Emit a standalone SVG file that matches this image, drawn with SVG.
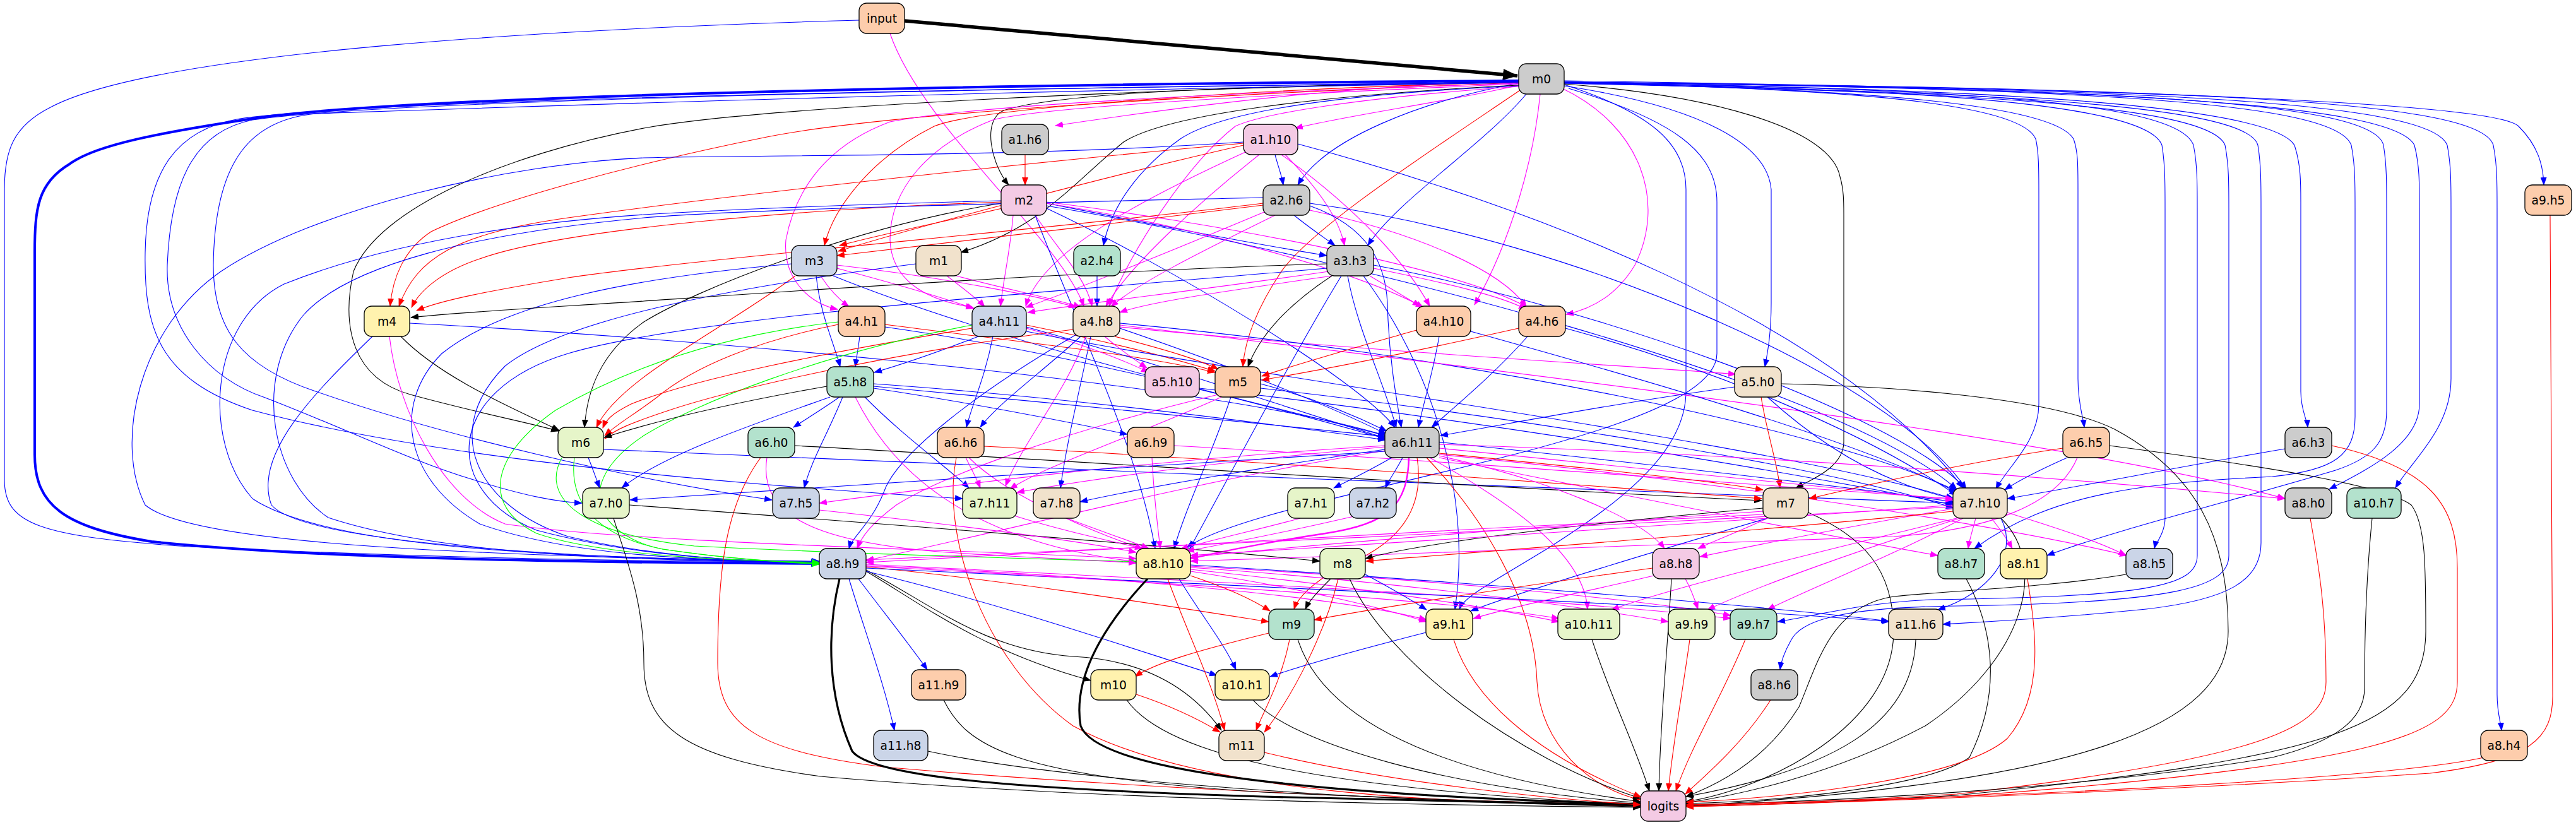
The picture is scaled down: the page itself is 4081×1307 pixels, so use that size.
<svg xmlns="http://www.w3.org/2000/svg" width="4081" height="1307" viewBox="0 0 4081 1307">
<defs>
<marker id="mb" viewBox="0 0 13 10" markerWidth="13" markerHeight="10" refX="12" refY="5" orient="auto" markerUnits="userSpaceOnUse"><path d="M0,0L13,5L0,10z" fill="#00f"/></marker>
<marker id="mr" viewBox="0 0 13 10" markerWidth="13" markerHeight="10" refX="12" refY="5" orient="auto" markerUnits="userSpaceOnUse"><path d="M0,0L13,5L0,10z" fill="#f00"/></marker>
<marker id="mm" viewBox="0 0 13 10" markerWidth="13" markerHeight="10" refX="12" refY="5" orient="auto" markerUnits="userSpaceOnUse"><path d="M0,0L13,5L0,10z" fill="#f0f"/></marker>
<marker id="mk" viewBox="0 0 13 10" markerWidth="13" markerHeight="10" refX="12" refY="5" orient="auto" markerUnits="userSpaceOnUse"><path d="M0,0L13,5L0,10z" fill="#000"/></marker>
<marker id="mg" viewBox="0 0 13 10" markerWidth="13" markerHeight="10" refX="12" refY="5" orient="auto" markerUnits="userSpaceOnUse"><path d="M0,0L13,5L0,10z" fill="#0f0"/></marker>
<marker id="mkb" viewBox="0 0 24 18" markerWidth="24" markerHeight="18" refX="23" refY="9" orient="auto" markerUnits="userSpaceOnUse"><path d="M0,0L24,9L0,18z" fill="#000"/></marker>
</defs>
<style>
.e path{fill:none;stroke-width:1.1}
.e .b{stroke:#00f;marker-end:url(#mb)}
.e .r{stroke:#f00;marker-end:url(#mr)}
.e .m{stroke:#f0f;marker-end:url(#mm)}
.e .k{stroke:#000;marker-end:url(#mk)}
.e .g{stroke:#0f0;marker-end:url(#mg)}
.e .w2{stroke-width:2.4}
.e .w3{stroke-width:3.2}
.e .w4{stroke-width:4}
.e .w5{stroke-width:5.5;marker-end:url(#mkb)}
.n rect{stroke:#000;stroke-width:1.3;rx:12;ry:12}
.n text{font-family:"DejaVu Sans","Liberation Sans",sans-serif;font-size:18.67px;text-anchor:middle;fill:#000}
.o{fill:#fdcdac}.gy{fill:#cccccc}.pk{fill:#f4cae4}.bl{fill:#cbd5e8}.bg{fill:#f1e2cc}.gr{fill:#b3e2cd}.yl{fill:#fff2ae}.lm{fill:#e6f5c9}
</style>
<rect width="4081" height="1307" fill="#fff"/>
<g id="edges" class="e">
<path class="k w5" d="M1433,33 L2404,120"/>
<path class="b" d="M1361,32 C900,45 250,80 80,170 C20,200 7,240 7,300 L7,760 C7,830 60,850 300,866 C700,885 1050,890 1298,890"/>
<path class="m" d="M1410,53 C1460,200 1680,380 1717,485"/>
<path class="m" d="M2406,128 C2200,135 2000,150 1672,199"/>
<path class="m" d="M2406,135 C2300,160 2150,180 2052,203"/>
<path class="k" d="M2406,129 C2100,135 1700,140 1590,175 C1555,190 1570,260 1598,293"/>
<path class="b" d="M2406,132 C2250,160 2100,220 2056,293"/>
<path class="b" d="M2478,128 C3300,140 3950,160 3990,200 C4020,230 4029,260 4030,293"/>
<path class="r" d="M2406,130 C2000,140 1550,170 1480,200 C1380,250 1320,330 1306,389"/>
<path class="k" d="M2406,135 C2100,150 1850,180 1780,225 C1700,290 1650,360 1522,400"/>
<path class="b" d="M2406,136 C2100,150 1930,180 1870,220 C1800,270 1760,330 1748,389"/>
<path class="b" d="M2418,149 C2350,230 2210,320 2167,389"/>
<path class="r" d="M2406,131 C1900,150 1400,180 1215,217 C1000,260 780,320 683,367 C640,395 622,440 618,485"/>
<path class="m" d="M2406,132 C2000,145 1550,165 1410,193 C1310,230 1260,300 1245,380 C1240,440 1280,480 1327,490"/>
<path class="m" d="M2406,133 C2000,150 1650,170 1573,190 C1470,230 1410,300 1410,380 C1412,440 1460,475 1542,487"/>
<path class="m" d="M2406,137 C2150,155 2000,180 1957,200 C1880,260 1790,400 1757,485"/>
<path class="m" d="M2440,149 C2430,250 2395,380 2336,483"/>
<path class="m" d="M2475,140 C2600,200 2640,320 2590,420 C2560,470 2520,490 2481,498"/>
<path class="r" d="M2408,143 C2250,250 2080,360 2030,430 C1990,490 1972,540 1969,581"/>
<path class="b" d="M2478,136 C2700,170 2800,230 2806,300 L2806,480 C2806,530 2800,560 2796,581"/>
<path class="k" d="M2406,129 C1800,140 1200,170 1020,203 C800,245 600,330 560,430 C540,520 560,600 650,625 C760,655 840,670 885,683"/>
<path class="b" d="M2478,131 C2900,140 3250,160 3285,220 C3292,240 3292,260 3292,300 L3292,600 C3292,640 3300,660 3302,677"/>
<path class="b" d="M2478,131 C3200,140 3600,170 3635,230 C3645,260 3645,290 3645,320 L3645,620 C3645,650 3655,665 3656,677"/>
<path class="b" d="M2478,131 C2900,140 3200,160 3225,220 C3230,240 3230,270 3230,310 L3230,640 C3230,700 3180,740 3162,775"/>
<path class="b" d="M2478,130 C3300,140 3790,160 3825,230 C3833,260 3833,290 3833,330 L3833,640 C3833,700 3760,740 3690,775"/>
<path class="b" d="M2478,130 C3400,140 3850,160 3877,230 C3883,260 3883,290 3883,330 L3883,600 C3883,680 3820,730 3795,773"/>
<path class="b" d="M2478,131 C3000,140 3400,160 3425,230 C3430,260 3430,290 3430,330 L3430,820 C3430,845 3415,860 3413,869"/>
<path class="b" d="M2478,131 C3100,140 3450,160 3475,230 C3481,260 3481,290 3481,330 L3481,880 C3481,930 3400,945 3060,950 C2950,955 2880,975 2816,985"/>
<path class="b" d="M2478,132 C3100,145 3500,165 3525,230 C3531,260 3531,290 3531,330 L3531,880 C3531,930 3450,955 3100,960 C2930,962 2860,980 2840,1010 C2828,1030 2822,1045 2820,1061"/>
<path class="b" d="M2478,132 C3150,145 3560,165 3577,230 C3582,260 3582,290 3582,330 L3582,860 C3582,920 3530,950 3400,965 C3250,980 3150,985 3078,989"/>
<path class="b" d="M2478,130 C3300,140 3700,160 3725,230 C3731,260 3731,290 3731,330 L3731,660 C3731,720 3700,745 3600,755 C3400,765 3250,780 3128,869"/>
<path class="b" d="M2478,130 C3350,140 3760,160 3776,230 C3781,260 3781,290 3781,330 L3781,650 C3781,700 3760,725 3700,745 C3550,790 3350,840 3243,880"/>
<path class="b" d="M2478,130 C3500,140 3930,160 3950,230 C3956,260 3956,290 3956,330 L3956,1100 C3956,1130 3962,1145 3963,1157"/>
<path class="k" d="M2478,133 C2700,150 2900,200 2915,280 C2921,300 2921,320 2921,340 L2921,700 C2921,740 2870,760 2845,773"/>
<path class="b" d="M2478,134 C2620,180 2671,230 2671,300 L2671,620 C2671,720 2560,800 2450,870 C2360,925 2320,945 2312,965"/>
<path class="b" d="M2485,140 C2650,190 2720,240 2720,320 L2720,560 C2720,700 2000,780 1880,868"/>
<path class="b w4" d="M2406,128 C1600,133 700,150 420,185 C250,210 150,230 110,260 C60,290 55,330 55,400 L55,720 C55,800 100,835 240,858 C500,885 900,891 1297,893"/>
<path class="b" d="M2406,130 C1500,140 600,160 400,190 C300,210 270,300 265,420 C262,520 330,600 420,630 C550,680 650,730 750,760 C830,785 880,795 922,797"/>
<path class="b" d="M2406,131 C1500,145 800,170 500,180 C400,190 340,250 338,420 C338,520 380,580 500,620 C700,690 1000,760 1223,792"/>
<path class="b" d="M2406,131 C1500,140 600,158 380,188 C280,205 232,270 230,400 C228,520 250,600 400,650 C700,730 1200,770 1525,790"/>
<path class="r" d="M1624,245 L1624,293"/>
<path class="b" d="M2020,245 C2025,265 2030,275 2033,293"/>
<path class="r" d="M1970,230 C1750,280 1450,360 1328,398"/>
<path class="r" d="M1970,227 C1600,260 1150,310 900,345 C720,370 660,410 632,485"/>
<path class="m" d="M2036,245 C2080,290 2120,340 2130,389"/>
<path class="m" d="M1975,240 C1800,320 1650,400 1625,485"/>
<path class="m" d="M1995,245 C1900,320 1790,420 1752,485"/>
<path class="m" d="M2030,245 C2150,330 2230,420 2265,485"/>
<path class="b" d="M2056,228 C2400,320 2900,500 3110,773"/>
<path class="b" d="M1970,225 C1600,250 1200,245 1020,250 C800,260 500,330 350,430 C220,520 180,700 230,800 C300,860 700,880 1297,890"/>
<path class="r" d="M1588,330 C1500,350 1400,370 1330,389"/>
<path class="r" d="M1586,320 C1300,330 900,360 760,410 C700,430 665,460 652,487"/>
<path class="k" d="M1586,322 C1350,360 1100,460 1020,510 C950,560 930,620 926,677"/>
<path class="b" d="M1658,322 C1800,350 1950,380 2102,405"/>
<path class="m" d="M1605,341 C1600,400 1590,440 1585,485"/>
<path class="m" d="M1640,341 C1680,400 1720,440 1730,485"/>
<path class="m" d="M1658,320 C1900,350 2300,420 2420,487"/>
<path class="m" d="M1658,322 C1900,360 2150,430 2255,487"/>
<path class="b" d="M1586,318 C1300,325 1100,335 1020,340 C800,355 600,390 450,450 C330,510 320,700 400,790 C520,870 900,885 1298,889"/>
<path class="b" d="M1658,326 C2100,400 2900,600 3100,775"/>
<path class="b" d="M1658,330 C1850,420 2150,600 2210,677"/>
<path class="b" d="M1640,341 C1700,500 1800,700 1830,869"/>
<path class="b" d="M2050,341 C2080,365 2100,378 2115,389"/>
<path class="r" d="M2001,325 C1800,350 1500,385 1326,405"/>
<path class="r" d="M2001,322 C1700,360 1100,410 900,440 C780,460 700,475 660,492"/>
<path class="m" d="M2005,335 C1850,400 1700,460 1625,487"/>
<path class="m" d="M2020,341 C1900,400 1800,450 1760,486"/>
<path class="m" d="M2075,333 C2250,370 2380,430 2418,486"/>
<path class="b" d="M2075,326 C2170,360 2195,420 2198,480 C2200,560 2210,620 2220,677"/>
<path class="b" d="M2075,322 C2500,380 3000,600 3115,775"/>
<path class="b" d="M2001,313 C1700,320 1200,330 1020,345 C750,370 550,420 480,500 C400,600 430,760 520,820 C700,880 1000,888 1298,891"/>
<path class="m" d="M1300,437 C1315,460 1330,475 1345,486"/>
<path class="m" d="M1326,425 C1420,450 1490,470 1543,489"/>
<path class="m" d="M1326,420 C1500,440 1650,470 1705,487"/>
<path class="b" d="M1293,437 C1300,500 1320,540 1331,581"/>
<path class="r" d="M1260,437 C1150,520 980,600 945,677"/>
<path class="b" d="M1254,418 C1000,440 800,480 700,560 C620,640 640,760 760,830 C900,880 1100,888 1298,891"/>
<path class="b" d="M1320,437 C1600,550 2000,640 2195,690"/>
<path class="m" d="M1500,437 C1530,460 1550,475 1560,486"/>
<path class="m" d="M1515,437 C1600,460 1680,475 1712,487"/>
<path class="b" d="M1451,418 C1200,450 900,500 800,580 C700,680 750,800 900,850 C1050,885 1200,890 1298,891"/>
<path class="b" d="M1738,437 L1738,485"/>
<path class="k" d="M2102,418 C1700,430 1200,465 1020,477 C850,488 720,495 651,503"/>
<path class="m" d="M2105,430 C1900,460 1720,480 1628,495"/>
<path class="m" d="M2110,437 C1950,460 1820,478 1774,495"/>
<path class="m" d="M2170,437 C2200,455 2225,470 2250,485"/>
<path class="m" d="M2176,425 C2300,450 2380,470 2418,490"/>
<path class="k" d="M2110,437 C2060,470 2000,520 1977,581"/>
<path class="b" d="M2135,437 C2150,520 2190,600 2212,677"/>
<path class="b" d="M2176,420 C2500,480 3000,650 3115,775"/>
<path class="b" d="M2160,437 C2280,600 2330,800 2305,965"/>
<path class="b" d="M2125,437 C2050,560 1950,750 1885,869"/>
<path class="b" d="M2102,425 C1700,460 1100,500 900,560 C700,620 700,780 850,840 C1000,880 1150,888 1298,892"/>
<path class="k" d="M635,533 C700,600 820,650 886,682"/>
<path class="m" d="M617,533 C630,650 700,790 800,830 C1000,860 1500,870 1800,885"/>
<path class="b" d="M590,533 C500,620 400,720 430,800 C480,860 900,885 1298,891"/>
<path class="b" d="M649,512 C1000,530 1900,600 2195,690"/>
<path class="b" d="M1362,533 C1360,550 1357,565 1355,581"/>
<path class="r" d="M1402,514 C1600,540 1800,560 1925,590"/>
<path class="r" d="M1328,514 C1200,540 1100,580 1040,630 C1000,660 980,670 958,690"/>
<path class="g" d="M1328,510 C1150,530 1000,580 880,650 C780,720 760,800 850,845 C950,880 1150,888 1298,891"/>
<path class="b" d="M1402,518 C1700,560 2000,640 2195,695"/>
<path class="b" d="M1550,533 C1480,560 1420,580 1385,590"/>
<path class="m" d="M1626,520 C1700,540 1780,570 1820,590"/>
<path class="r" d="M1626,515 C1750,540 1850,565 1925,588"/>
<path class="b" d="M1573,533 C1560,600 1540,640 1531,677"/>
<path class="r" d="M1540,520 C1300,560 1100,600 1000,640 C970,655 960,665 955,678"/>
<path class="g" d="M1540,515 C1300,560 1100,640 1020,690 C900,770 950,850 1050,870 C1150,885 1230,890 1298,893"/>
<path class="b" d="M1626,518 C1850,580 2050,650 2195,694"/>
<path class="b" d="M1626,525 C2000,600 2800,700 3095,790"/>
<path class="m" d="M1750,533 C1770,550 1790,565 1817,583"/>
<path class="r" d="M1766,533 C1850,555 1900,570 1930,585"/>
<path class="b" d="M1712,533 C1650,590 1580,640 1553,677"/>
<path class="b" d="M1728,533 C1710,620 1690,700 1680,773"/>
<path class="m" d="M1720,533 C1690,620 1620,700 1593,770"/>
<path class="b" d="M1705,530 C1550,620 1420,720 1400,780 C1380,830 1350,850 1345,869"/>
<path class="m" d="M1774,518 C2200,560 2600,580 2750,593"/>
<path class="b" d="M1774,520 C1950,580 2100,640 2197,688"/>
<path class="b" d="M1774,512 C2300,560 2900,680 3100,778"/>
<path class="m" d="M1774,515 C2500,600 3300,700 3620,790"/>
<path class="r" d="M1700,522 C1400,560 1150,620 1060,650 C1000,670 975,680 958,695"/>
<path class="r" d="M2244,523 C2150,550 2060,575 1999,596"/>
<path class="b" d="M2280,533 C2270,590 2255,640 2247,677"/>
<path class="b" d="M2330,525 C2600,600 2950,700 3100,780"/>
<path class="r" d="M2406,520 C2250,555 2100,585 1999,602"/>
<path class="b" d="M2420,533 C2370,590 2310,640 2268,677"/>
<path class="b" d="M2480,520 C2700,580 2950,680 3100,785"/>
<path class="b" d="M1330,629 C1300,650 1275,665 1257,677"/>
<path class="b" d="M1384,615 C1550,640 1700,670 1786,688"/>
<path class="b" d="M1335,629 C1310,690 1285,730 1274,773"/>
<path class="b" d="M1370,629 C1430,690 1500,740 1535,773"/>
<path class="k" d="M1310,612 C1150,640 1030,670 957,693"/>
<path class="b" d="M1315,629 C1200,670 1050,720 985,773"/>
<path class="b" d="M1384,608 C1700,630 2000,670 2195,697"/>
<path class="b" d="M1384,612 C1900,660 2700,740 3095,795"/>
<path class="m" d="M1355,629 C1420,760 1550,860 1800,890"/>
<path class="b" d="M1900,615 C2300,660 2800,740 3095,800"/>
<path class="b" d="M1997,608 C2080,630 2150,660 2197,683"/>
<path class="b" d="M1997,615 C2400,660 2900,740 3095,805"/>
<path class="b" d="M1950,629 C1920,720 1880,800 1860,869"/>
<path class="m" d="M1930,625 C1700,680 1500,750 1420,800 C1380,830 1365,850 1358,869"/>
<path class="m" d="M1935,629 C1800,690 1650,740 1600,775"/>
<path class="b" d="M2748,613 C2550,640 2400,670 2282,690"/>
<path class="r" d="M2790,629 C2800,690 2815,730 2820,773"/>
<path class="b" d="M2800,629 C2900,720 3000,770 3095,790"/>
<path class="k" d="M2822,608 C3000,612 3250,630 3350,680 C3480,750 3530,850 3530,1000 C3530,1150 3300,1240 2671,1277"/>
<path class="b" d="M932,725 C940,745 945,760 950,773"/>
<path class="g" d="M910,725 C900,800 950,850 1050,870 C1150,885 1230,890 1298,894"/>
<path class="g" d="M890,725 C850,800 950,850 1100,865 C1400,880 1650,885 1800,890"/>
<path class="b" d="M956,712 C1500,740 2700,780 3094,797"/>
<path class="k" d="M1259,706 C1700,730 2300,770 2791,793"/>
<path class="r" d="M1205,725 C1150,800 1137,900 1137,1050 C1137,1150 1200,1190 1400,1215 C1800,1250 2300,1270 2599,1275"/>
<path class="m" d="M1215,725 C1200,820 1300,860 1500,875 C1650,885 1750,888 1800,892"/>
<path class="m" d="M1530,725 C1540,745 1548,760 1553,773"/>
<path class="r" d="M1559,707 C1900,725 2400,760 2791,790"/>
<path class="r" d="M1515,725 C1490,850 1560,1050 1700,1150 C1900,1260 2300,1272 2599,1277"/>
<path class="m" d="M1535,725 C1600,790 1750,850 1810,869"/>
<path class="m" d="M1825,725 C1828,790 1835,840 1838,869"/>
<path class="m" d="M1860,706 C2300,730 2800,770 3094,790"/>
<path class="b" d="M2205,725 C2170,745 2140,760 2113,773"/>
<path class="b" d="M2222,725 C2212,745 2200,760 2195,773"/>
<path class="b" d="M2194,712 C2000,740 1800,775 1711,795"/>
<path class="m" d="M2194,706 C1800,730 1500,770 1298,797"/>
<path class="m" d="M2194,708 C1950,730 1750,755 1611,780"/>
<path class="r" d="M2280,718 C2500,740 2700,760 2793,776"/>
<path class="m" d="M2280,710 C2600,740 2900,775 3094,792"/>
<path class="m" d="M2280,704 C2800,720 3300,760 3620,790"/>
<path class="m w2" d="M2232,725 C2230,800 2200,830 2100,845 C2000,860 1930,875 1886,885"/>
<path class="m" d="M2194,714 C1900,760 1600,840 1372,888"/>
<path class="m" d="M2280,722 C2450,760 2600,820 2637,869"/>
<path class="m" d="M2265,725 C2400,800 2510,880 2515,965"/>
<path class="r" d="M2260,725 C2350,820 2430,950 2435,1080 C2440,1180 2520,1250 2599,1267"/>
<path class="r" d="M2245,725 C2260,820 2200,870 2120,900 C2070,930 2055,950 2050,965"/>
<path class="m" d="M2280,725 C2600,790 2900,850 3070,880"/>
<path class="m" d="M2280,720 C2800,770 3200,840 3370,880"/>
<path class="b" d="M2194,715 C1800,740 1300,770 998,792"/>
<path class="b" d="M3275,725 C3230,745 3200,760 3176,776"/>
<path class="r" d="M3268,710 C3100,735 2950,770 2866,790"/>
<path class="m" d="M3291,725 C3260,800 3150,840 3000,850 C2600,865 2100,880 1886,889"/>
<path class="k" d="M3342,706 C3600,740 3780,770 3820,800 C3843,830 3843,900 3843,1000 C3843,1150 3700,1200 3100,1260 C2900,1272 2750,1276 2671,1277"/>
<path class="b" d="M3620,711 C3450,740 3300,770 3180,790"/>
<path class="r" d="M3694,706 C3850,740 3893,800 3893,900 L3893,1080 C3893,1160 3800,1210 3100,1262 C2900,1272 2750,1276 2671,1278"/>
<path class="k" d="M972,821 C990,880 1020,950 1020,1050 C1020,1150 1080,1200 1300,1230 C1700,1265 2200,1275 2599,1279"/>
<path class="k" d="M997,800 C1400,830 1800,860 2091,889"/>
<path class="m" d="M1298,808 C1500,830 1700,855 1800,875"/>
<path class="m" d="M1600,815 C1680,840 1750,855 1810,869"/>
<path class="m" d="M1690,821 C1740,840 1785,855 1820,869"/>
<path class="m" d="M2060,821 C1990,840 1920,855 1870,870"/>
<path class="m" d="M2145,818 C2050,840 1950,860 1880,873"/>
<path class="m" d="M2793,810 C2500,830 2100,860 1886,883"/>
<path class="m" d="M2793,815 C2300,840 1700,870 1372,891"/>
<path class="k" d="M2793,805 C2500,830 2250,860 2163,885"/>
<path class="m" d="M2800,821 C2760,840 2720,855 2690,869"/>
<path class="k" d="M2865,812 C2950,850 3000,900 3000,1000 C3000,1150 2800,1250 2671,1270"/>
<path class="b" d="M2800,821 C2600,880 2400,940 2330,968"/>
<path class="m" d="M3130,821 C3125,840 3120,855 3118,869"/>
<path class="m" d="M3155,821 C3170,840 3180,855 3188,869"/>
<path class="m" d="M3180,812 C3270,840 3330,860 3368,880"/>
<path class="m" d="M3094,806 C2950,830 2800,860 2693,882"/>
<path class="m" d="M3094,800 C2700,830 2200,860 1886,880"/>
<path class="m" d="M3094,803 C2600,830 1900,865 1372,887"/>
<path class="r" d="M3094,810 C2800,840 2400,870 2164,889"/>
<path class="m" d="M3110,821 C3000,880 2850,940 2800,966"/>
<path class="m" d="M3100,821 C2900,870 2650,930 2553,966"/>
<path class="m" d="M3105,821 C2950,870 2780,930 2705,966"/>
<path class="k" d="M3170,821 C3250,900 3200,1050 3050,1150 C2900,1230 2750,1260 2671,1272"/>
<path class="b" d="M3170,821 C3200,880 3150,940 3070,966"/>
<path class="r" d="M3660,821 C3670,880 3685,950 3685,1080 C3685,1150 3600,1200 3100,1258 C2900,1270 2750,1275 2671,1276"/>
<path class="k" d="M3758,821 C3750,900 3746,1000 3746,1090 C3746,1140 3700,1175 3600,1200 C3300,1250 2900,1270 2671,1275"/>
<path class="k w3" d="M1330,917 C1310,1000 1310,1100 1350,1190 C1380,1230 1600,1250 2000,1262 C2300,1270 2500,1274 2599,1276"/>
<path class="b" d="M1345,917 C1370,1000 1400,1080 1417,1157"/>
<path class="b" d="M1360,917 C1400,970 1440,1020 1469,1061"/>
<path class="k" d="M1372,905 C1450,950 1550,1030 1728,1078"/>
<path class="k" d="M1372,903 C1480,960 1560,1030 1700,1040 C1800,1045 1880,1080 1935,1157"/>
<path class="b" d="M1372,905 C1600,960 1800,1030 1928,1070"/>
<path class="r" d="M1372,898 C1600,920 1850,960 2010,985"/>
<path class="m" d="M1372,896 C1700,910 2100,940 2260,982"/>
<path class="m" d="M1372,894 C1900,920 2500,950 2742,980"/>
<path class="b" d="M1372,900 C2000,930 2700,960 2993,985"/>
<path class="m" d="M1372,897 C1800,920 2300,950 2470,980"/>
<path class="k w3" d="M1818,917 C1740,1000 1700,1080 1712,1150 C1740,1225 2100,1260 2599,1274"/>
<path class="r" d="M1850,917 C1880,1000 1920,1080 1940,1157"/>
<path class="b" d="M1868,917 C1900,970 1940,1020 1958,1061"/>
<path class="r" d="M1886,912 C1940,930 1985,950 2012,968"/>
<path class="m" d="M1886,905 C2050,930 2180,960 2260,985"/>
<path class="m" d="M1886,902 C2150,930 2350,960 2470,985"/>
<path class="m" d="M1886,899 C2200,920 2500,960 2643,985"/>
<path class="m" d="M1886,897 C2300,920 2600,950 2742,975"/>
<path class="b" d="M1886,895 C2300,920 2800,960 2992,984"/>
<path class="k" d="M2108,917 C2090,935 2075,950 2068,965"/>
<path class="b" d="M2163,910 C2200,930 2235,950 2260,966"/>
<path class="k" d="M2138,917 C2200,1050 2400,1200 2599,1265"/>
<path class="r" d="M2120,917 C2100,1000 2050,1100 2003,1160"/>
<path class="r" d="M2618,900 C2400,930 2200,960 2082,982"/>
<path class="m" d="M2620,912 C2500,940 2400,960 2334,980"/>
<path class="k" d="M2648,917 C2640,1050 2630,1150 2628,1253"/>
<path class="m" d="M2670,917 C2680,935 2685,950 2690,965"/>
<path class="k" d="M3115,917 C3160,1000 3170,1100 3120,1200 C3050,1250 2800,1270 2671,1273"/>
<path class="r" d="M3212,917 C3225,1000 3240,1100 3180,1170 C3100,1240 2800,1265 2671,1271"/>
<path class="k" d="M3368,910 C3250,930 3100,935 3000,945 C2900,960 2880,1050 2850,1120 C2800,1200 2730,1240 2671,1262"/>
<path class="r" d="M2010,1003 C1900,1030 1830,1050 1798,1072"/>
<path class="k" d="M2056,1013 C2100,1150 2300,1230 2599,1270"/>
<path class="r" d="M2043,1013 C2030,1080 2000,1130 1990,1157"/>
<path class="b" d="M2259,1002 C2150,1030 2060,1055 2012,1072"/>
<path class="r" d="M2303,1013 C2330,1100 2420,1190 2600,1263"/>
<path class="k" d="M2522,1013 C2550,1100 2590,1180 2613,1253"/>
<path class="r" d="M2677,1013 C2665,1100 2650,1180 2643,1253"/>
<path class="r" d="M2765,1013 C2730,1100 2680,1180 2655,1253"/>
<path class="k" d="M3035,1013 C3030,1150 2900,1220 2671,1262"/>
<path class="k" d="M1495,1109 C1530,1180 1600,1230 2000,1255 C2300,1268 2500,1274 2599,1276"/>
<path class="r" d="M1800,1100 C1860,1120 1900,1140 1933,1160"/>
<path class="k" d="M1785,1109 C1850,1200 2100,1250 2599,1275"/>
<path class="k" d="M1985,1109 C2050,1180 2300,1250 2599,1272"/>
<path class="r" d="M2805,1109 C2760,1180 2700,1230 2670,1258"/>
<path class="k" d="M1470,1190 C1700,1240 2200,1270 2599,1278"/>
<path class="r" d="M2003,1192 C2200,1240 2450,1265 2599,1275"/>
<path class="r" d="M3935,1200 C3800,1230 3300,1260 2671,1275"/>
<path class="r" d="M4040,341 L4044,1100 C4045,1170 4010,1205 3850,1225 C3400,1255 2900,1272 2671,1278"/>
</g>
<g id="input" class="n"><rect class="o" x="1361" y="5" width="72" height="48"/><text x="1397" y="36">input</text></g>
<g id="m0" class="n"><rect class="gy" x="2406" y="101" width="72" height="48"/><text x="2442" y="132">m0</text></g>
<g id="a1.h6" class="n"><rect class="gy" x="1587" y="197" width="74" height="48"/><text x="1624" y="228">a1.h6</text></g>
<g id="a1.h10" class="n"><rect class="pk" x="1970" y="197" width="86" height="48"/><text x="2013" y="228">a1.h10</text></g>
<g id="m2" class="n"><rect class="pk" x="1586" y="293" width="72" height="48"/><text x="1622" y="324">m2</text></g>
<g id="a2.h6" class="n"><rect class="gy" x="2001" y="293" width="74" height="48"/><text x="2038" y="324">a2.h6</text></g>
<g id="a9.h5" class="n"><rect class="o" x="4000" y="293" width="74" height="48"/><text x="4037" y="324">a9.h5</text></g>
<g id="m3" class="n"><rect class="bl" x="1254" y="389" width="72" height="48"/><text x="1290" y="420">m3</text></g>
<g id="m1" class="n"><rect class="bg" x="1451" y="389" width="72" height="48"/><text x="1487" y="420">m1</text></g>
<g id="a2.h4" class="n"><rect class="gr" x="1701" y="389" width="74" height="48"/><text x="1738" y="420">a2.h4</text></g>
<g id="a3.h3" class="n"><rect class="gy" x="2102" y="389" width="74" height="48"/><text x="2139" y="420">a3.h3</text></g>
<g id="m4" class="n"><rect class="yl" x="577" y="485" width="72" height="48"/><text x="613" y="516">m4</text></g>
<g id="a4.h1" class="n"><rect class="o" x="1328" y="485" width="74" height="48"/><text x="1365" y="516">a4.h1</text></g>
<g id="a4.h11" class="n"><rect class="bl" x="1540" y="485" width="86" height="48"/><text x="1583" y="516">a4.h11</text></g>
<g id="a4.h8" class="n"><rect class="bg" x="1700" y="485" width="74" height="48"/><text x="1737" y="516">a4.h8</text></g>
<g id="a4.h10" class="n"><rect class="o" x="2244" y="485" width="86" height="48"/><text x="2287" y="516">a4.h10</text></g>
<g id="a4.h6" class="n"><rect class="o" x="2406" y="485" width="74" height="48"/><text x="2443" y="516">a4.h6</text></g>
<g id="a5.h8" class="n"><rect class="gr" x="1310" y="581" width="74" height="48"/><text x="1347" y="612">a5.h8</text></g>
<g id="a5.h10" class="n"><rect class="pk" x="1814" y="581" width="86" height="48"/><text x="1857" y="612">a5.h10</text></g>
<g id="m5" class="n"><rect class="o" x="1925" y="581" width="72" height="48"/><text x="1961" y="612">m5</text></g>
<g id="a5.h0" class="n"><rect class="bg" x="2748" y="581" width="74" height="48"/><text x="2785" y="612">a5.h0</text></g>
<g id="m6" class="n"><rect class="lm" x="884" y="677" width="72" height="48"/><text x="920" y="708">m6</text></g>
<g id="a6.h0" class="n"><rect class="gr" x="1185" y="677" width="74" height="48"/><text x="1222" y="708">a6.h0</text></g>
<g id="a6.h6" class="n"><rect class="o" x="1485" y="677" width="74" height="48"/><text x="1522" y="708">a6.h6</text></g>
<g id="a6.h9" class="n"><rect class="o" x="1786" y="677" width="74" height="48"/><text x="1823" y="708">a6.h9</text></g>
<g id="a6.h11" class="n"><rect class="gy" x="2194" y="677" width="86" height="48"/><text x="2237" y="708">a6.h11</text></g>
<g id="a6.h5" class="n"><rect class="o" x="3268" y="677" width="74" height="48"/><text x="3305" y="708">a6.h5</text></g>
<g id="a6.h3" class="n"><rect class="gy" x="3620" y="677" width="74" height="48"/><text x="3657" y="708">a6.h3</text></g>
<g id="a7.h0" class="n"><rect class="lm" x="923" y="773" width="74" height="48"/><text x="960" y="804">a7.h0</text></g>
<g id="a7.h5" class="n"><rect class="bl" x="1224" y="773" width="74" height="48"/><text x="1261" y="804">a7.h5</text></g>
<g id="a7.h11" class="n"><rect class="lm" x="1525" y="773" width="86" height="48"/><text x="1568" y="804">a7.h11</text></g>
<g id="a7.h8" class="n"><rect class="bg" x="1637" y="773" width="74" height="48"/><text x="1674" y="804">a7.h8</text></g>
<g id="a7.h1" class="n"><rect class="lm" x="2040" y="773" width="74" height="48"/><text x="2077" y="804">a7.h1</text></g>
<g id="a7.h2" class="n"><rect class="bl" x="2138" y="773" width="74" height="48"/><text x="2175" y="804">a7.h2</text></g>
<g id="m7" class="n"><rect class="bg" x="2793" y="773" width="72" height="48"/><text x="2829" y="804">m7</text></g>
<g id="a7.h10" class="n"><rect class="bg" x="3094" y="773" width="86" height="48"/><text x="3137" y="804">a7.h10</text></g>
<g id="a8.h0" class="n"><rect class="gy" x="3620" y="773" width="74" height="48"/><text x="3657" y="804">a8.h0</text></g>
<g id="a10.h7" class="n"><rect class="gr" x="3718" y="773" width="86" height="48"/><text x="3761" y="804">a10.h7</text></g>
<g id="a8.h9" class="n"><rect class="bl" x="1298" y="869" width="74" height="48"/><text x="1335" y="900">a8.h9</text></g>
<g id="a8.h10" class="n"><rect class="yl" x="1800" y="869" width="86" height="48"/><text x="1843" y="900">a8.h10</text></g>
<g id="m8" class="n"><rect class="lm" x="2091" y="869" width="72" height="48"/><text x="2127" y="900">m8</text></g>
<g id="a8.h8" class="n"><rect class="pk" x="2618" y="869" width="74" height="48"/><text x="2655" y="900">a8.h8</text></g>
<g id="a8.h7" class="n"><rect class="gr" x="3070" y="869" width="74" height="48"/><text x="3107" y="900">a8.h7</text></g>
<g id="a8.h1" class="n"><rect class="yl" x="3169" y="869" width="74" height="48"/><text x="3206" y="900">a8.h1</text></g>
<g id="a8.h5" class="n"><rect class="bl" x="3368" y="869" width="74" height="48"/><text x="3405" y="900">a8.h5</text></g>
<g id="m9" class="n"><rect class="gr" x="2010" y="965" width="72" height="48"/><text x="2046" y="996">m9</text></g>
<g id="a9.h1" class="n"><rect class="yl" x="2259" y="965" width="74" height="48"/><text x="2296" y="996">a9.h1</text></g>
<g id="a10.h11" class="n"><rect class="lm" x="2468" y="965" width="98" height="48"/><text x="2517" y="996">a10.h11</text></g>
<g id="a9.h9" class="n"><rect class="lm" x="2643" y="965" width="74" height="48"/><text x="2680" y="996">a9.h9</text></g>
<g id="a9.h7" class="n"><rect class="gr" x="2741" y="965" width="74" height="48"/><text x="2778" y="996">a9.h7</text></g>
<g id="a11.h6" class="n"><rect class="bg" x="2992" y="965" width="86" height="48"/><text x="3035" y="996">a11.h6</text></g>
<g id="a11.h9" class="n"><rect class="o" x="1444" y="1061" width="86" height="48"/><text x="1487" y="1092">a11.h9</text></g>
<g id="m10" class="n"><rect class="yl" x="1728" y="1061" width="72" height="48"/><text x="1764" y="1092">m10</text></g>
<g id="a10.h1" class="n"><rect class="yl" x="1925" y="1061" width="86" height="48"/><text x="1968" y="1092">a10.h1</text></g>
<g id="a8.h6" class="n"><rect class="gy" x="2774" y="1061" width="74" height="48"/><text x="2811" y="1092">a8.h6</text></g>
<g id="a11.h8" class="n"><rect class="bl" x="1384" y="1157" width="86" height="48"/><text x="1427" y="1188">a11.h8</text></g>
<g id="m11" class="n"><rect class="bg" x="1931" y="1157" width="72" height="48"/><text x="1967" y="1188">m11</text></g>
<g id="a8.h4" class="n"><rect class="o" x="3930" y="1157" width="74" height="48"/><text x="3967" y="1188">a8.h4</text></g>
<g id="logits" class="n"><rect class="pk" x="2599" y="1253" width="72" height="48"/><text x="2635" y="1284">logits</text></g>
</svg>
